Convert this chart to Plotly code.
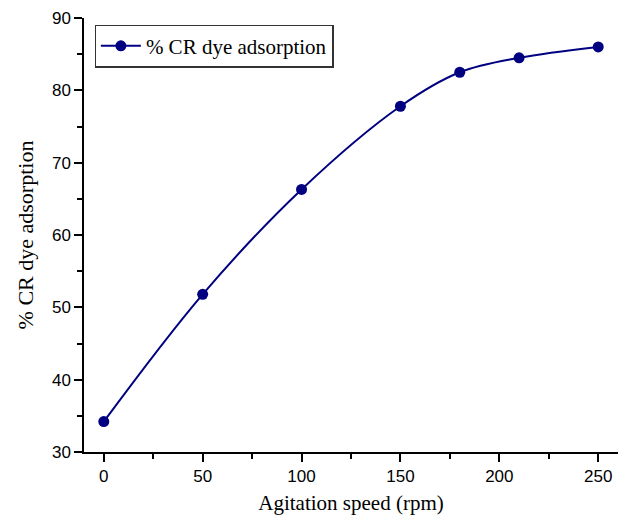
import plotly.graph_objects as go

speed = [0, 50, 100, 150, 180, 210, 250]
adsorption = [34.2, 51.8, 66.3, 77.8, 82.5, 84.5, 86.0]
x_ticks = [0, 50, 100, 150, 200, 250]
y_ticks = [30, 40, 50, 60, 70, 80, 90]

navy = "#000080"

fig = go.Figure()
fig.add_trace(go.Scatter(
    x=speed, y=adsorption, mode="lines+markers",
    name="% CR dye adsorption",
    line=dict(color=navy, width=2, shape="spline", smoothing=1.0),
    marker=dict(color=navy, size=11),
))

axis_common = dict(
    showgrid=False, zeroline=False, showline=True, linecolor="black", linewidth=1.5,
    ticks="outside", ticklen=8, tickwidth=1.5, tickcolor="black",
    tickfont=dict(family="Liberation Sans, Arial", size=17, color="black"),
    mirror=False,
)

fig.update_xaxes(
    range=[-10, 260], tickvals=x_ticks,
    minor=dict(dtick=25, tick0=0, ticks="outside", ticklen=5, tickwidth=1.5, tickcolor="black"),
    title=dict(text="Agitation speed (rpm)", font=dict(family="Liberation Serif, Times New Roman", size=21, color="black"), standoff=10),
    **axis_common,
)
fig.update_yaxes(
    range=[30, 90], tickvals=y_ticks,
    minor=dict(dtick=5, tick0=30, ticks="outside", ticklen=5, tickwidth=1.5, tickcolor="black"),
    title=dict(text="% CR dye adsorption", font=dict(family="Liberation Serif, Times New Roman", size=22, color="black"), standoff=12),
    **axis_common,
)

fig.update_layout(
    width=627, height=521,
    margin=dict(l=84, r=9, t=14, b=69),
    plot_bgcolor="white", paper_bgcolor="white",
    showlegend=True,
    legend=dict(
        x=0.02, y=0.985, xanchor="left", yanchor="top",
        bordercolor="#333333", borderwidth=1.2, bgcolor="white",
        font=dict(family="Liberation Serif, Times New Roman", size=21, color="black"),
        itemwidth=40, tracegroupgap=0,
    ),
)

fig.write_html("out.html")
